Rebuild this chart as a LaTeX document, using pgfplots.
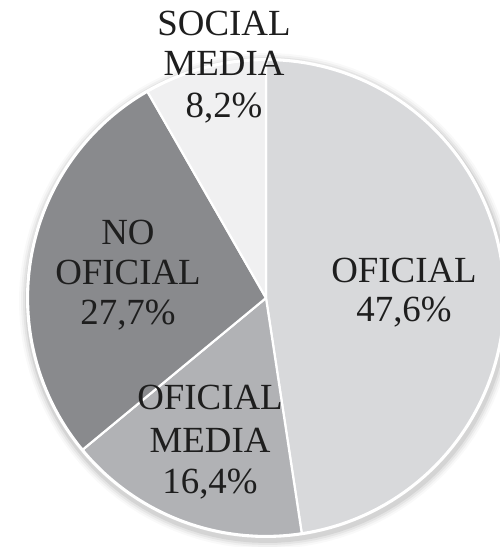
\documentclass[border=0pt]{standalone}
\usepackage{pgfplots}
\pgfplotsset{compat=1.18}
\usepackage{fontspec}
\setmainfont{Liberation Serif}
\definecolor{cOf}{RGB}{216,217,219}
\definecolor{cOfM}{RGB}{177,178,181}
\definecolor{cNo}{RGB}{137,138,141}
\definecolor{cSoc}{RGB}{240,240,241}
\definecolor{txt}{RGB}{30,30,30}
% data (percent)
\def\vA{47.6}% OFICIAL
\def\vB{16.4}% OFICIAL MEDIA
\def\vC{27.7}% NO OFICIAL
\def\vD{8.2}%  SOCIAL MEDIA
\pgfmathsetmacro{\aA}{90}
\pgfmathsetmacro{\aB}{\aA-3.6*\vA}
\pgfmathsetmacro{\aC}{\aB-3.6*\vB}
\pgfmathsetmacro{\aD}{\aC-3.6*\vC}
\pgfmathsetmacro{\aE}{-270}
\def\cx{266}\def\cy{249}\def\PR{238}
\begin{document}
\begin{tikzpicture}
\path[use as bounding box] (0,0) rectangle (500bp,547bp);
\begin{axis}[
  at={(0,0)}, anchor=south west,
  x=1bp, y=1bp,
  xmin=0, xmax=500, ymin=0, ymax=547,
  hide axis, clip=true,
]
% soft shadow
\addplot[fill=black, fill opacity=0.025, draw=none, domain=0:360, samples=120, variable=\t]
  ({\cx+1+(\PR+10)*cos(\t)},{\cy-3+(\PR+10)*sin(\t)});
\addplot[fill=black, fill opacity=0.035, draw=none, domain=0:360, samples=120, variable=\t]
  ({\cx+1+(\PR+8)*cos(\t)},{\cy-3+(\PR+8)*sin(\t)});
\addplot[fill=black, fill opacity=0.05, draw=none, domain=0:360, samples=120, variable=\t]
  ({\cx+1+(\PR+6)*cos(\t)},{\cy-3+(\PR+6)*sin(\t)});
\addplot[fill=black, fill opacity=0.07, draw=none, domain=0:360, samples=120, variable=\t]
  ({\cx+1+(\PR+4)*cos(\t)},{\cy-3+(\PR+4)*sin(\t)});
\addplot[fill=white, draw=none, domain=0:360, samples=180, variable=\t]
  ({\cx+(\PR+2)*cos(\t)},{\cy+(\PR+2)*sin(\t)});
% slices
\addplot[fill=cOf, draw=white, line width=2.2pt, line join=round, domain=\aB:\aA, samples=90, variable=\t]
  ({\cx+\PR*cos(\t)},{\cy+\PR*sin(\t)}) -- (axis cs:\cx,\cy) -- cycle;
\addplot[fill=cOfM, draw=white, line width=2.2pt, line join=round, domain=\aC:\aB, samples=40, variable=\t]
  ({\cx+\PR*cos(\t)},{\cy+\PR*sin(\t)}) -- (axis cs:\cx,\cy) -- cycle;
\addplot[fill=cNo, draw=white, line width=2.2pt, line join=round, domain=\aD:\aC, samples=60, variable=\t]
  ({\cx+\PR*cos(\t)},{\cy+\PR*sin(\t)}) -- (axis cs:\cx,\cy) -- cycle;
\addplot[fill=cSoc, draw=white, line width=2.2pt, line join=round, domain=\aE:\aD, samples=20, variable=\t]
  ({\cx+\PR*cos(\t)},{\cy+\PR*sin(\t)}) -- (axis cs:\cx,\cy) -- cycle;
% labels
\node[anchor=base, inner sep=0pt, text=txt, font=\fontsize{37}{40}\selectfont] at (axis cs:224,511) {SOCIAL};
\node[anchor=base, inner sep=0pt, text=txt, font=\fontsize{37}{40}\selectfont] at (axis cs:224,471) {MEDIA};
\node[anchor=base, inner sep=0pt, text=txt, font=\fontsize{37}{40}\selectfont] at (axis cs:224,429) {8,2\%};
\node[anchor=base, inner sep=0pt, text=txt, font=\fontsize{37}{40}\selectfont] at (axis cs:128,302) {NO};
\node[anchor=base, inner sep=0pt, text=txt, font=\fontsize{37}{40}\selectfont] at (axis cs:128,262) {OFICIAL};
\node[anchor=base, inner sep=0pt, text=txt, font=\fontsize{37}{40}\selectfont] at (axis cs:128,222) {27,7\%};
\node[anchor=base, inner sep=0pt, text=txt, font=\fontsize{37}{40}\selectfont] at (axis cs:404,264) {OFICIAL};
\node[anchor=base, inner sep=0pt, text=txt, font=\fontsize{37}{40}\selectfont] at (axis cs:404,225) {47,6\%};
\node[anchor=base, inner sep=0pt, text=txt, font=\fontsize{37}{40}\selectfont] at (axis cs:210,138) {OFICIAL};
\node[anchor=base, inner sep=0pt, text=txt, font=\fontsize{37}{40}\selectfont] at (axis cs:210,95) {MEDIA};
\node[anchor=base, inner sep=0pt, text=txt, font=\fontsize{37}{40}\selectfont] at (axis cs:210,54) {16,4\%};
\end{axis}
\end{tikzpicture}
\end{document}
